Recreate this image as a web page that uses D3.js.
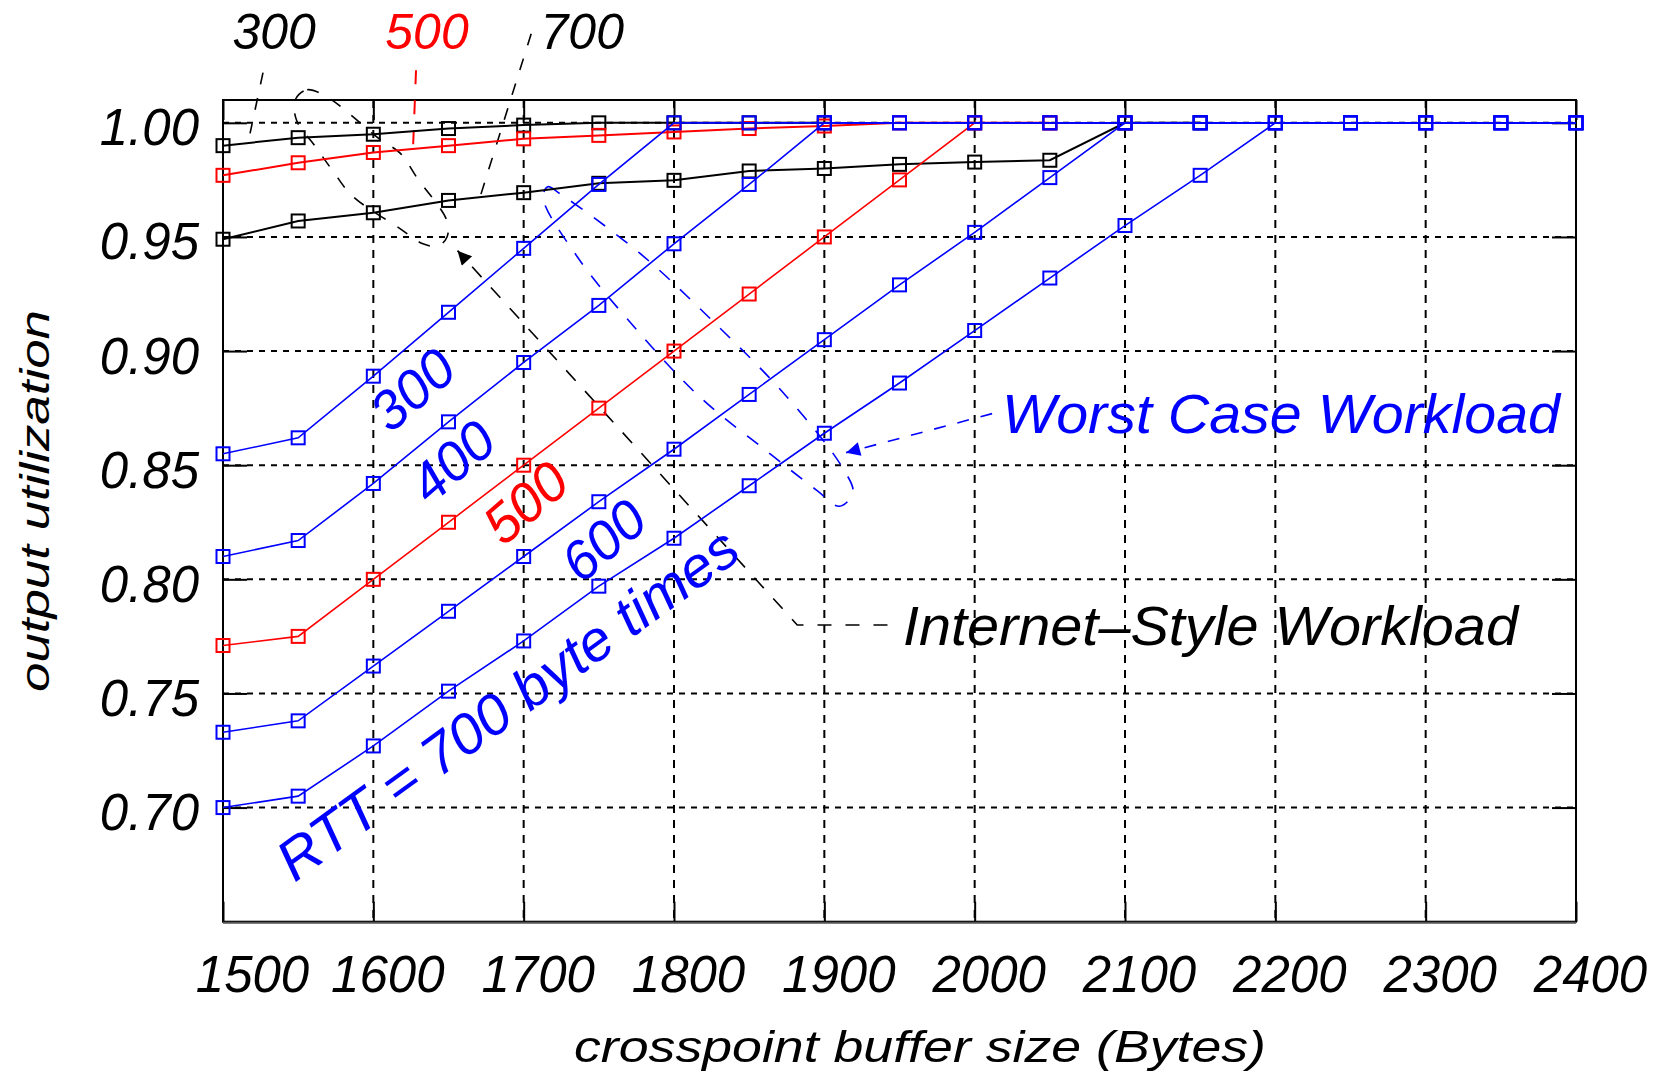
<!DOCTYPE html>
<html>
<head>
<meta charset="utf-8">
<script src="https://cdn.jsdelivr.net/npm/d3@7"></script>
<style>
  body { margin: 0; background: #fff; }
  text { font-family: "Liberation Sans", Arial, sans-serif; font-style: italic; }
</style>
</head>
<body>
<script>
const width = 1667;
const height = 1078;

// crosspoint buffer sizes (Bytes), one point every 50
const bufferSizes = d3.range(1500, 2401, 50);
const xTicks = d3.range(1500, 2401, 100);
const yTicks = [0.70, 0.75, 0.80, 0.85, 0.90, 0.95, 1.00];

// worst case workload, RTT = 300..700 byte times
const worst300 = [0.855, 0.862, 0.889, 0.917, 0.945, 0.973, 1, 1, 1, 1, 1, 1, 1, 1, 1, 1, 1, 1, 1];
const worst400 = [0.810, 0.817, 0.842, 0.869, 0.895, 0.920, 0.947, 0.973, 1, 1, 1, 1, 1, 1, 1, 1, 1, 1, 1];
const worst500 = [0.771, 0.775, 0.800, 0.825, 0.850, 0.875, 0.900, 0.925, 0.950, 0.975, 1, 1, 1];
const worst600 = [0.733, 0.738, 0.762, 0.786, 0.810, 0.834, 0.857, 0.881, 0.905, 0.929, 0.952, 0.976, 1, 1, 1, 1, 1, 1, 1];
const worst700 = [0.700, 0.705, 0.727, 0.751, 0.773, 0.797, 0.818, 0.841, 0.864, 0.886, 0.909, 0.932, 0.955, 0.977, 1, 1, 1, 1, 1];

// internet-style workload, RTT = 300, 500, 700
const inet300 = [0.990, 0.9935, 0.995, 0.9975, 0.999, 1, 1, 1, 1];
const inet500 = [0.977, 0.9825, 0.987, 0.990, 0.993, 0.9945, 0.996, 0.9975, 0.9986, 1, 1, 1];
const inet700 = [0.949, 0.957, 0.9606, 0.966, 0.9694, 0.9735, 0.9748, 0.9789, 0.980, 0.9818, 0.9828, 0.9836, 1, 1];

const series = [
    { values: inet300, color: "#000", width: 2 },
    { values: inet700, color: "#000", width: 2 },
    { values: inet500, color: "#f00", width: 2 },
    { values: worst500, color: "#f00", width: 1.6 },
    { values: worst700, color: "#00f", width: 1.6 },
    { values: worst600, color: "#00f", width: 1.6 },
    { values: worst400, color: "#00f", width: 1.6 },
    { values: worst300, color: "#00f", width: 1.6 }
];

const x = d3.scaleLinear().domain([1500, 2400]).range([223, 1576]);
const y = d3.scaleLinear().domain([0.65, 1.01]).range([921.7, 100]);

const svg = d3.select(document.body).append("svg")
    .attr("width", width)
    .attr("height", height)
    .style("background", "#fff");

// grid
const grid = svg.append("g").attr("stroke", "#000").attr("stroke-width", 2);
grid.selectAll("line.v")
    .data(xTicks.slice(1, -1))
    .join("line")
    .attr("x1", d => x(d)).attr("x2", d => x(d))
    .attr("y1", y.range()[1]).attr("y2", y.range()[0])
    .attr("stroke-dasharray", "8,7");
grid.selectAll("line.h")
    .data(yTicks)
    .join("line")
    .attr("x1", x.range()[0]).attr("x2", x.range()[1])
    .attr("y1", d => y(d)).attr("y2", d => y(d))
    .attr("stroke-dasharray", "6,6");

// axes with inward ticks
const left = svg.append("g")
    .attr("transform", `translate(${x.range()[0]},0)`)
    .call(d3.axisLeft(y).tickValues(yTicks).tickSize(-24).tickSizeOuter(0).tickPadding(24).tickFormat(d3.format(".2f")));
const bottom = svg.append("g")
    .attr("transform", `translate(0,${y.range()[0]})`)
    .call(d3.axisBottom(x).tickValues(xTicks).tickSize(-20).tickSizeOuter(0).tickPadding(34).tickFormat(d3.format("d")));
svg.append("g")
    .attr("transform", `translate(0,${y.range()[1]})`)
    .call(d3.axisTop(x).tickValues(xTicks).tickSize(-20).tickSizeOuter(0).tickFormat(""));
svg.append("g")
    .attr("transform", `translate(${x.range()[1]},0)`)
    .call(d3.axisRight(y).tickValues(yTicks).tickSize(-24).tickSizeOuter(0).tickFormat(""));

svg.selectAll(".domain").remove();
svg.selectAll(".tick line").attr("stroke", "#000").attr("stroke-width", 2);
left.selectAll("text").attr("font-size", 51).attr("fill", "#000").attr("dy", "0.43em");
bottom.selectAll("text").attr("font-size", 51).attr("fill", "#000").attr("dx", d => d === 1500 ? 29 : 14);
left.attr("font-family", null);
bottom.attr("font-family", null);

svg.append("rect")
    .attr("x", x.range()[0]).attr("y", y.range()[1])
    .attr("width", x.range()[1] - x.range()[0])
    .attr("height", y.range()[0] - y.range()[1])
    .attr("fill", "none").attr("stroke", "#000").attr("stroke-width", 2);
svg.append("line")
    .attr("x1", x.range()[0]).attr("x2", x.range()[1])
    .attr("y1", y.range()[0] + 1).attr("y2", y.range()[0] + 1)
    .attr("stroke", "#555").attr("stroke-width", 2);

// annotation leaders and loops (data coordinates)
const pt = d3.line().x(d => x(d[0])).y(d => y(d[1]));
const loop = d3.line().x(d => x(d[0])).y(d => y(d[1])).curve(d3.curveCatmullRomClosed);

const defs = svg.append("defs");
[["arrowBlack", "#000"], ["arrowBlue", "#00f"]].forEach(([id, c]) => {
    defs.append("marker")
        .attr("id", id)
        .attr("viewBox", "0 0 10 10")
        .attr("refX", 10).attr("refY", 5)
        .attr("markerWidth", 22).attr("markerHeight", 14)
        .attr("markerUnits", "userSpaceOnUse")
        .attr("orient", "auto")
        .append("path").attr("d", "M0,0L10,5L0,10z").attr("fill", c);
});

const blackLoop = [[1548, 1.010], [1556, 1.0145], [1570, 1.011], [1584, 1.004], [1604, 0.993], [1618, 0.9866],
    [1629, 0.976], [1649, 0.957], [1649, 0.950], [1643, 0.946], [1633, 0.947], [1617, 0.954],
    [1586, 0.968], [1573, 0.979], [1561, 0.990], [1549, 1.001]];
const blueLoop = [[1713, 0.967], [1716, 0.972], [1724, 0.969], [1777, 0.943], [1826, 0.913], [1875, 0.880],
    [1912, 0.849], [1919, 0.838], [1910, 0.832], [1895, 0.839], [1862, 0.856], [1817, 0.880],
    [1773, 0.911], [1736, 0.941]];

const ann = svg.append("g").attr("fill", "none").attr("stroke-width", 1.6);
ann.append("path").attr("d", loop(blackLoop)).attr("stroke", "#000").attr("stroke-dasharray", "12,14");
ann.append("path").attr("d", loop(blueLoop)).attr("stroke", "#00f").attr("stroke-dasharray", "14,14");
ann.append("path").attr("d", pt([[1526.6, 1.022], [1518, 0.9954]])).attr("stroke", "#000").attr("stroke-dasharray", "12,14");
ann.append("path").attr("d", pt([[1628.4, 1.023], [1626.4, 0.9888]])).attr("stroke", "#f00").attr("stroke-width", 2).attr("stroke-dasharray", "14,16");
ann.append("path").attr("d", pt([[1705, 1.039], [1671, 0.9675]])).attr("stroke", "#000").attr("stroke-dasharray", "12,14");
ann.append("path").attr("d", pt([[1942, 0.780], [1882, 0.780], [1656, 0.944]]))
    .attr("stroke", "#000").attr("stroke-dasharray", "14,14").attr("marker-end", "url(#arrowBlack)");
ann.append("path").attr("d", pt([[2011.6, 0.8726], [1914.5, 0.8555]]))
    .attr("stroke", "#00f").attr("stroke-dasharray", "12,12").attr("marker-end", "url(#arrowBlue)");

// series
const line = d3.line().x((d, i) => x(bufferSizes[i])).y(d => y(d));
series.forEach(s => {
    const g = svg.append("g");
    g.append("path")
        .attr("d", line(s.values))
        .attr("fill", "none")
        .attr("stroke", s.color)
        .attr("stroke-width", s.width);
    g.selectAll("rect")
        .data(s.values)
        .join("rect")
        .attr("x", (d, i) => x(bufferSizes[i]) - 6.5)
        .attr("y", d => y(d) - 6.5)
        .attr("width", 13).attr("height", 13)
        .attr("fill", "none")
        .attr("stroke", s.color)
        .attr("stroke-width", 2);
});

// text labels
const labels = [
    { text: "300", at: [1625.7, 0.8833], color: "#00f", size: 55, angle: -41 },
    { text: "400", at: [1652.3, 0.8518], color: "#00f", size: 55, angle: -41 },
    { text: "500", at: [1700.9, 0.8338], color: "#f00", size: 55, angle: -41 },
    { text: "600", at: [1752.8, 0.8172], color: "#00f", size: 55, angle: -41 },
    { text: "RTT = 700 byte times", at: [1688.9, 0.7457], color: "#00f", size: 57, angle: -36, len: 555 }
];
labels.forEach(l => {
    const t = svg.append("text")
        .attr("transform", `translate(${x(l.at[0])},${y(l.at[1])}) rotate(${l.angle})`)
        .attr("text-anchor", "middle")
        .attr("dy", "0.36em")
        .attr("font-size", l.size)
        .attr("fill", l.color)
        .text(l.text);
    if (l.len) t.attr("textLength", l.len).attr("lengthAdjust", "spacingAndGlyphs");
});

const topLabels = [
    { text: "300", at: [1534, 1.0323], color: "#000" },
    { text: "500", at: [1635.7, 1.0323], color: "#f00" },
    { text: "700", at: [1739, 1.0323], color: "#000" }
];
svg.selectAll("text.top")
    .data(topLabels)
    .join("text")
    .attr("x", d => x(d.at[0]))
    .attr("y", d => y(d.at[1]))
    .attr("text-anchor", "middle")
    .attr("font-size", 50)
    .attr("fill", d => d.color)
    .text(d => d.text);

svg.append("text")
    .attr("x", x(2018.2)).attr("y", y(0.8641))
    .attr("font-size", 55).attr("fill", "#00f")
    .attr("textLength", 558).attr("lengthAdjust", "spacingAndGlyphs")
    .text("Worst Case Workload");
svg.append("text")
    .attr("x", x(1952.3)).attr("y", y(0.7712))
    .attr("font-size", 55).attr("fill", "#000")
    .attr("textLength", 615).attr("lengthAdjust", "spacingAndGlyphs")
    .text("Internet\u2013Style Workload");

// axis titles
svg.append("text")
    .attr("x", 920).attr("y", 1062)
    .attr("text-anchor", "middle")
    .attr("font-size", 45)
    .attr("textLength", 692).attr("lengthAdjust", "spacingAndGlyphs")
    .text("crosspoint buffer size (Bytes)");
svg.append("text")
    .attr("transform", "translate(49,501) rotate(-90)")
    .attr("text-anchor", "middle")
    .attr("font-size", 40)
    .attr("textLength", 382).attr("lengthAdjust", "spacingAndGlyphs")
    .text("output utilization");
</script>
</body>
</html>
